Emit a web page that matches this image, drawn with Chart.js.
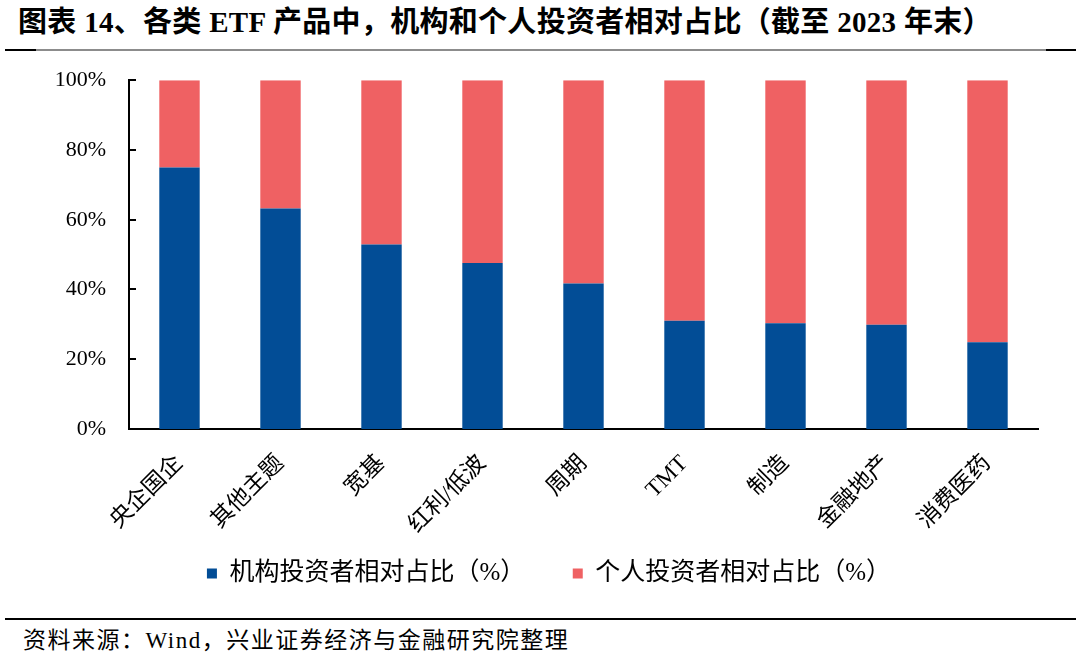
<!DOCTYPE html>
<html>
<head>
<meta charset="utf-8">
<script src="https://cdn.jsdelivr.net/npm/chart.js@4.4.1/dist/chart.umd.min.js"></script>
<style>
  body { margin: 0; width: 1080px; height: 661px; background: #fff; position: relative; overflow: hidden;
         font-family: 'Liberation Serif', 'Noto Sans CJK SC', serif; }
  #title { position: absolute; left: 18px; top: -2px; font-size: 29px; font-weight: bold; color: #000; white-space: nowrap; letter-spacing: 0.3px; }
  .rule { position: absolute; height: 2px; }
  #source { position: absolute; left: 23px; top: 621px; font-size: 23px; color: #000; white-space: nowrap; letter-spacing: 1.5px; }
  #wrap { position: absolute; left: 0; top: 44px; width: 1080px; height: 566px; }
</style>
</head>
<body>
<div id="title">图表 14、各类 ETF 产品中，机构和个人投资者相对占比（截至 2023 年末）</div>
<div class="rule" style="left:5px;width:31px;top:49px;background:#000;"></div>
<div class="rule" style="left:36px;width:1010px;top:49px;background:#8c8c8c;"></div>
<div class="rule" style="left:1046px;width:30px;top:49px;background:#000;"></div>
<div id="wrap"><canvas id="my-chart"></canvas></div>
<div class="rule" style="left:5px;width:1071px;top:618px;background:#000;"></div>
<div id="source">资料来源：Wind，兴业证券经济与金融研究院整理</div>
<script>
// categories and shares (%)
let categories = ["央企国企", "其他主题", "宽基", "红利/低波", "周期", "TMT", "制造", "金融地产", "消费医药"];
let institutionVals = [75.0, 63.2, 52.9, 47.6, 41.7, 31.0, 30.3, 29.9, 24.9];
let individualVals = [25.0, 36.8, 47.1, 52.4, 58.3, 69.0, 69.7, 70.1, 75.1];
let yTicks = [0, 20, 40, 60, 80, 100];

const FONT = "'Liberation Serif', 'Noto Sans CJK SC', serif";

// short tick marks pointing into the plot, like the original
const innerTicks = {
  id: "innerTicks",
  afterDraw(chart) {
    const ctx = chart.ctx;
    const y = chart.scales.y;
    ctx.save();
    ctx.strokeStyle = "#000";
    ctx.lineWidth = 2;
    yTicks.forEach((v) => {
      const py = Math.round(y.getPixelForValue(v));
      ctx.beginPath();
      ctx.moveTo(y.right, py);
      ctx.lineTo(y.right + 7, py);
      ctx.stroke();
    });
    ctx.restore();
  },
};

// the original legend sits a bit right of the plot centre
const legendShift = {
  id: "legendShift",
  afterLayout(chart) {
    chart.legend.left += 30;
    chart.legend.right += 30;
  },
};

let myChart = document.getElementById("my-chart").getContext("2d");

let userChart = new Chart(myChart, {
  type: "bar",
  data: {
    labels: categories,
    datasets: [
      {
        // trailing full-width spaces widen the gap between the two legend items
        label: "机构投资者相对占比（%）　　",
        data: institutionVals,
        backgroundColor: "#024d96",
        barPercentage: 0.4,
        categoryPercentage: 1,
      },
      {
        label: "个人投资者相对占比（%）",
        data: individualVals,
        backgroundColor: "#ef6163",
        barPercentage: 0.4,
        categoryPercentage: 1,
      },
    ],
  },
  options: {
    responsive: true,
    maintainAspectRatio: false,
    animation: false,
    layout: { padding: { left: 0, right: 42, top: 0, bottom: 14 } },
    plugins: {
      legend: {
        position: "bottom",
        labels: {
          boxWidth: 10,
          boxHeight: 10,
          padding: 10,
          color: "#000",
          font: { family: FONT, size: 25 },
        },
      },
      tooltip: { enabled: false },
    },
    scales: {
      x: {
        stacked: true,
        grid: { display: false },
        border: { display: true, color: "#000", width: 2 },
        ticks: {
          color: "#000",
          font: { family: FONT, size: 23 },
          minRotation: 45,
          maxRotation: 45,
          padding: 13,
        },
        afterFit(scale) { scale.height = 122; },
      },
      y: {
        stacked: true,
        min: 0,
        max: 100,
        grid: { display: false, drawTicks: false },
        border: { display: true, color: "#000", width: 2 },
        afterBuildTicks(scale) { scale.ticks = yTicks.map((v) => ({ value: v })); },
        ticks: {
          color: "#000",
          font: { family: FONT, size: 22 },
          padding: 23,
          callback: (v) => v + "%",
        },
        afterFit(scale) { scale.width = 129; },
      },
    },
  },
  plugins: [innerTicks, legendShift],
});
</script>
</body>
</html>
